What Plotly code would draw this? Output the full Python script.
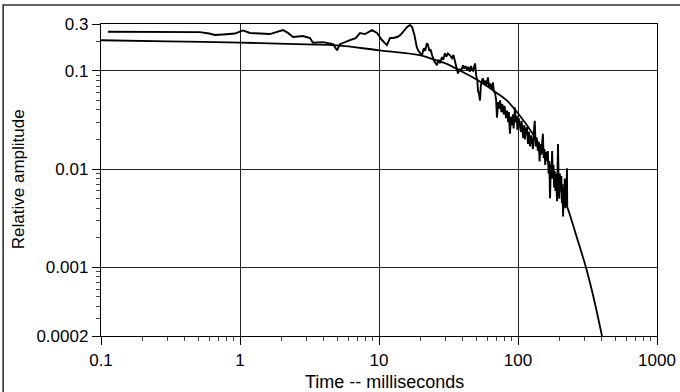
import plotly.graph_objects as go

# Measured (noisy) relative amplitude vs time (ms)
meas_t = [0.112, 0.2, 0.3, 0.515, 0.6, 0.661, 0.8, 0.92, 1.05, 1.18, 1.4, 1.64, 2.04, 2.2, 2.41,
          2.84, 3.19, 3.35, 3.95, 4.67, 4.99, 5.24, 6.18, 6.8, 7.30, 7.93, 8.91, 9.68, 10.5, 11.4,
          12.0, 12.6, 13.5, 14.2, 14.9, 15.9, 16.7, 17.3, 18.0, 18.7, 19.2, 19.7, 20.4, 21.0,
          21.5, 22.1, 22.5, 23.0, 23.5, 24.1, 25.0, 26.1, 26.8, 27.5, 28.4, 29.0, 29.8, 30.5,
          31.3, 32.4, 33.5, 34.3, 35.2, 36.0, 37.0, 38.0, 39.0, 40.2, 41.0, 42.0, 42.9, 44.0,
          45.0, 46.0, 46.7, 47.5, 48.3, 49.1, 50.0, 51.0, 51.5, 52.5, 53.3, 54.0, 55.0, 56.0,
          57.0, 58.0, 59.0, 60.8, 62.0, 63.5, 65.0, 66.1, 67.0, 68.4, 69.5, 70.6, 72, 73, 74.3,
          76, 77, 79, 80, 82, 83.4, 85, 86, 87.5, 89, 90, 92, 93, 95.1, 96, 98, 99, 101, 103,
          105, 106, 108, 109, 111, 112, 114, 116, 118, 120, 122, 124, 126, 128, 130, 132, 134,
          136, 139, 141, 143, 145, 147, 149, 151, 153, 155, 157, 159, 162, 164, 166, 168, 170,
          172, 174, 176, 178, 180, 182, 184, 186, 188, 191, 193, 194, 196, 198, 200, 203, 205,
          207, 209, 211, 213, 215, 217, 219, 221, 223, 225, 226]
meas_v = [0.250, 0.249, 0.248, 0.248, 0.240, 0.232, 0.236, 0.240, 0.258, 0.243, 0.240, 0.237,
          0.260, 0.245, 0.221, 0.226, 0.216, 0.193, 0.196, 0.187, 0.162, 0.187, 0.206, 0.215,
          0.243, 0.237, 0.260, 0.243, 0.206, 0.183, 0.216, 0.216, 0.221, 0.231, 0.250, 0.279,
          0.293, 0.280, 0.230, 0.174, 0.160, 0.151, 0.144, 0.170, 0.160, 0.191, 0.185, 0.160,
          0.165, 0.144, 0.125, 0.114, 0.130, 0.120, 0.138, 0.130, 0.151, 0.140, 0.150, 0.144,
          0.135, 0.145, 0.122, 0.110, 0.094, 0.105, 0.100, 0.114, 0.105, 0.112, 0.102, 0.110,
          0.098, 0.112, 0.102, 0.100, 0.108, 0.119, 0.090, 0.080, 0.063, 0.058, 0.0499, 0.070,
          0.080, 0.0838, 0.072, 0.080, 0.070, 0.0857, 0.068, 0.074, 0.064, 0.0762, 0.062,
          0.0588, 0.052, 0.0333, 0.048, 0.041, 0.050, 0.038, 0.046, 0.036, 0.044, 0.033, 0.0394,
          0.030, 0.038, 0.0229, 0.034, 0.028, 0.036, 0.026, 0.0423, 0.030, 0.035, 0.025, 0.033,
          0.029, 0.024, 0.031, 0.022, 0.0208, 0.028, 0.020, 0.026, 0.0263, 0.018, 0.024, 0.017,
          0.022, 0.0194, 0.016, 0.024, 0.031, 0.017, 0.021, 0.0153, 0.019, 0.012, 0.018, 0.014,
          0.020, 0.0229, 0.013, 0.016, 0.011, 0.015, 0.0121, 0.0153, 0.009, 0.012, 0.00505,
          0.010, 0.008, 0.0153, 0.008, 0.011, 0.0065, 0.0095, 0.006, 0.009, 0.0047, 0.010,
          0.018, 0.0075, 0.005, 0.009, 0.006, 0.0085, 0.0045, 0.007, 0.0033, 0.006, 0.0045,
          0.008, 0.004, 0.0065, 0.0048, 0.0102, 0.0042]

# Model (smooth) curve
fit_t = [0.1, 0.3, 1, 3, 5, 10, 20, 25, 31, 37, 50, 70, 83, 100, 130, 150, 180, 225, 260,
         308, 350, 402]
fit_v = [0.205, 0.200, 0.194, 0.186, 0.182, 0.162, 0.144, 0.130, 0.117, 0.103, 0.082, 0.060,
         0.050, 0.037, 0.022, 0.0154, 0.0092, 0.0042, 0.0022, 0.0010, 0.00049, 0.0002]

x_ticks = [0.1, 1, 10, 100, 1000]
x_labels = ["0.1", "1", "10", "100", "1000"]
y_ticks = [0.0002, 0.001, 0.01, 0.1, 0.3]
y_labels = ["0.0002", "0.001", "0.01", "0.1", "0.3"]

x_minor = [m * d for d in (0.1, 1, 10, 100) for m in range(2, 10)]
y_minor = [m * d for d in (0.0001, 0.001, 0.01, 0.1) for m in range(2, 10)
           if 0.0002 < m * d < 0.3]

FONT = "Liberation Sans, Arial, Helvetica, sans-serif"

fig = go.Figure()
fig.add_trace(go.Scatter(x=fit_t, y=fit_v, mode="lines",
                         line=dict(color="black", width=1.8, shape="spline"),
                         showlegend=False, hoverinfo="skip"))
fig.add_trace(go.Scatter(x=meas_t, y=meas_v, mode="lines",
                         line=dict(color="black", width=1.9),
                         showlegend=False, hoverinfo="skip"))

axis_common = dict(
    type="log", showline=True, linecolor="black", linewidth=1.2, mirror=True,
    showgrid=True, gridcolor="#222222", gridwidth=1,
    ticks="outside", ticklen=8, tickcolor="black", tickwidth=1,
    tickfont=dict(family=FONT, size=17, color="black"),
    zeroline=False, automargin=False,
)

fig.update_xaxes(range=[-1, 3], tickmode="array", tickvals=x_ticks, ticktext=x_labels,
                 minor=dict(tickmode="array", tickvals=x_minor, ticks="outside", ticklen=4,
                            tickcolor="#444444", showgrid=False),
                 **axis_common)
fig.update_yaxes(range=[-3.69897, -0.522879], tickmode="array", tickvals=y_ticks,
                 ticktext=y_labels,
                 minor=dict(tickmode="array", tickvals=y_minor, ticks="outside", ticklen=4,
                            tickcolor="#444444", showgrid=False),
                 **axis_common)

fig.add_annotation(text="Time -- milliseconds", xref="paper", yref="paper",
                   x=0.509, y=-0.147, xanchor="center", yanchor="middle", showarrow=False,
                   font=dict(family=FONT, size=18, color="black"))
fig.add_annotation(text="Relative amplitude", xref="paper", yref="paper",
                   x=-0.149, y=0.503, xanchor="center", yanchor="middle", showarrow=False,
                   textangle=-90, font=dict(family=FONT, size=17, color="black"))

# outer frame (top and left edges visible; right/bottom fall outside the page)
fig.add_shape(type="rect", xref="paper", yref="paper", x0=-0.176, x1=1.2,
              y0=-0.3, y1=1.0609, line=dict(color="#333333", width=1.6),
              fillcolor="rgba(0,0,0,0)", layer="above")

fig.update_layout(
    width=680, height=392, autosize=False,
    margin=dict(l=101, r=23, t=24, b=56),
    paper_bgcolor="white", plot_bgcolor="white",
    font=dict(family=FONT, color="black"),
)

fig.write_html("out.html", config={"displayModeBar": False, "staticPlot": True},
               post_script="document.body.style.margin='0';"
                           "document.body.style.overflow='hidden';")
